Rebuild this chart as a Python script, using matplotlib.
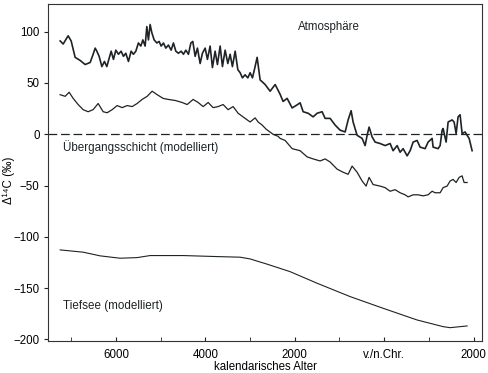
import matplotlib
matplotlib.use("Agg")
import matplotlib.pyplot as plt

plt.rcParams['font.family'] = ['Liberation Sans', 'DejaVu Sans']

# Atmosphere (measured)
atm_year = [-7248, -7181, -7069, -7002, -6913, -6801, -6689, -6577, -6510,
            -6465, -6427, -6376, -6315, -6257, -6204, -6152, -6107, -6056, -6002,
            -5944, -5884, -5832, -5779, -5720, -5660, -5609, -5555, -5497, -5443,
            -5398, -5347, -5309, -5273, -5235, -5197, -5145, -5085, -5034, -4989,
            -4937, -4884, -4826, -4765, -4714, -4660, -4602, -4541, -4490, -4436,
            -4378, -4324, -4280, -4228, -4177, -4116, -4065, -4004, -3953, -3893,
            -3841, -3781, -3729, -3669, -3617, -3557, -3497, -3445, -3394, -3333,
            -3273, -3221, -3170, -3110, -3049, -2998, -2946, -2902,
            -2841, -2774, -2662, -2550, -2438, -2327, -2260, -2170, -2058, -1946,
            -1879, -1812, -1700, -1588, -1499, -1387, -1320, -1208, -1096, -984,
            -872, -805, -738, -694, -604, -492, -425, -380, -336, -268,
            -201, -89, 22, 134, 201, 291, 358, 425, 515, 582,
            649, 738, 805, 917, 984, 1074, 1096, 1208, 1253, 1298,
            1320, 1387, 1432, 1521, 1566, 1611, 1655, 1700, 1745, 1812,
            1857, 1902, 1969]
atm_val = [91, 88, 96, 91, 75, 72, 68, 70, 78,
           84, 81, 76, 66, 71, 66, 74, 81, 73, 82,
           78, 81, 76, 79, 71, 81, 78, 81, 89, 86,
           92, 86, 105, 92, 107, 99, 92, 89, 90.5, 86,
           89, 84, 87, 82, 89, 81, 79, 81, 78, 82,
           78, 89, 90.5, 76, 84, 69, 79, 84, 73, 86,
           65, 81, 68, 86, 66, 82, 69, 78, 66, 81,
           63, 60, 55, 58, 55, 60, 55, 63,
           75, 53, 48.5, 42, 48.5, 39, 32, 35, 25.7, 28.7,
           30.7, 22, 20.5, 17, 20.5, 22, 15.5, 15.5, 9, 4,
           2.3, 14, 23, 12, -1, -4, -11, -1, 7, -2.6,
           -7.6, -9, -11, -9, -16, -11, -17.5, -14, -21, -16,
           -7.6, -6, -12.5, -14, -7.6, -4, -12.5, -14, -11, 4,
           5.6, -7.6, 12, 14, 12, 0.7, 17, 19, 0.7, 2.3,
           -1, -4, -16]

# Transition layer (modelled)
trans_year = [-7248, -7136, -7047, -6957, -6846, -6734, -6622, -6510, -6398, -6286,
              -6197, -6085, -5973, -5861, -5749, -5638, -5526, -5414, -5302, -5190,
              -5078, -4944, -4832, -4676, -4519, -4407, -4273, -4161, -4049, -3937,
              -3826, -3714, -3602, -3490, -3378, -3266, -3110, -2998, -2886, -2819,
              -2729, -2640, -2484, -2372, -2327, -2215, -2058, -1879, -1723, -1588,
              -1432, -1320, -1208, -1051, -917, -805, -716, -604, -492, -403,
              -336, -246, -89, 22, 134, 246, 358, 470, 537, 649,
              761, 872, 984, 1074, 1141, 1253, 1320, 1409, 1477, 1544,
              1611, 1678, 1745, 1790, 1857]
trans_val = [38.6, 37, 41, 35, 29, 24, 22, 24, 30, 22,
             21, 24, 28, 26, 28, 27, 30, 34, 37, 42,
             38.6, 35, 34, 33, 31, 29, 34, 31, 27, 31,
             26, 27, 29, 24, 27, 20.5, 15.5, 12, 16, 12,
             9, 5, 0, -2, -4, -6, -14, -16, -22, -24,
             -26, -24, -27, -34, -37, -39, -31, -37, -45.5, -50.5,
             -42, -49, -50.5, -52, -55.5, -54, -57, -59, -61, -59,
             -59, -60, -59, -55.5, -57, -57, -52, -50.5, -45.5, -44,
             -47, -42, -40.5, -47, -47]

# Deep sea (modelled)
deep_year = [-7248, -6734, -6353, -5906, -5526, -5235, -4497, -3736, -3221, -2998,
             -2617, -2103, -1499, -761, -22, 738, 1320, 1477, 1857]
deep_val = [-112.7, -114.9, -118.5, -120.8, -120.2, -118.2, -118.2, -119.2, -119.8, -121.5,
            -126.6, -133.9, -145.2, -158.2, -169.6, -181, -187.5, -188.5, -186.8]

xticks = [-6000, -4000, -2000, 0, 2000]
xticklabels = ['6000', '4000', '2000', 'v./n.Chr.', '2000']
xminor = [-7000, -5000, -3000, -1000, 1000]
yticks = [100, 50, 0, -50, -100, -150, -200]

fig = plt.figure(figsize=(4.88, 3.73), dpi=100)
ax = fig.add_axes([48 / 488, 1 - 340.5 / 373, 434 / 488, 336.5 / 373])

ink = '#1e2326'
ax.plot(atm_year, atm_val, color=ink, lw=1.2)
ax.plot(trans_year, trans_val, color=ink, lw=0.9)
ax.plot(deep_year, deep_val, color=ink, lw=0.8)
ax.axhline(0, color=ink, lw=0.9, linestyle=(0, (7, 3)))

ax.set_xlim(-7520, 2190)
ax.set_ylim(-201, 127)

ax.set_xticks(xticks)
ax.set_xticklabels(xticklabels)
ax.set_xticks(xminor, minor=True)
ax.set_yticks(yticks)
ax.tick_params(axis='x', which='both', direction='in', length=3, pad=6, labelsize=8.3, color=ink)
ax.tick_params(axis='y', direction='out', length=3, pad=3, labelsize=8.3, color=ink)

for s in ax.spines.values():
    s.set_color('#333333')
    s.set_linewidth(0.8)

ax.set_xlabel('kalendarisches Alter', fontsize=8.3)
ax.xaxis.set_label_coords(0.5, -0.06)
ax.set_ylabel('Δ¹⁴C (‰)', fontsize=8.3)
ax.yaxis.set_label_coords(-0.076, 0.475)

ax.text(-1230, 105, 'Atmosphäre', fontsize=8.3, ha='center', va='center', color=ink)
ax.text(-7180, -12.5, 'Übergangsschicht (modelliert)', fontsize=8.4, ha='left', va='center', color=ink)
ax.text(-7180, -167, 'Tiefsee (modelliert)', fontsize=8.4, ha='left', va='center', color=ink)

fig.savefig('out.png', dpi=100)
